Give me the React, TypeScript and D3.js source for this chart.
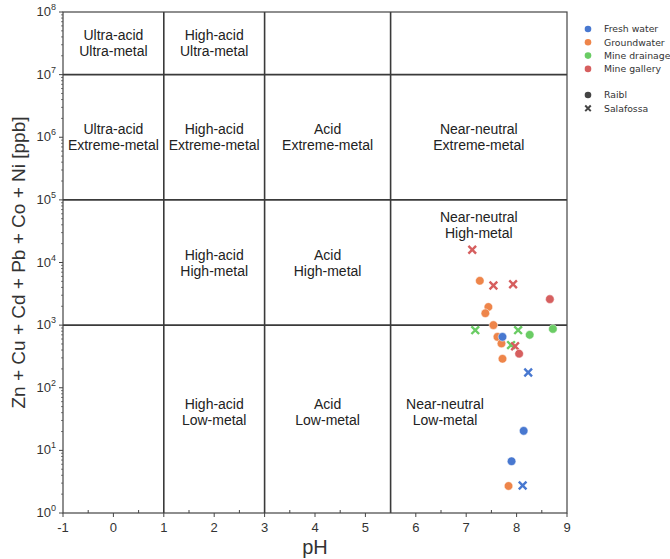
import React, { useEffect, useRef } from 'react';
import * as d3 from 'd3';

// samples: [pH, Zn+Cu+Cd+Pb+Co+Ni in ppb, site]
type Sample = [number, number, string];

const groundwater: Sample[] = [
  [7.27, 5100, 'Raibl'],
  [7.44, 1950, 'Raibl'],
  [7.38, 1550, 'Raibl'],
  [7.54, 1000, 'Raibl'],
  [7.62, 650, 'Raibl'],
  [7.70, 510, 'Raibl'],
  [7.72, 290, 'Raibl'],
  [7.84, 2.7, 'Raibl'],
];

const mineDrainage: Sample[] = [
  [7.18, 830, 'Salafossa'],
  [8.03, 830, 'Salafossa'],
  [8.26, 700, 'Raibl'],
  [8.72, 870, 'Raibl'],
  [7.89, 480, 'Salafossa'],
];

const mineGallery: Sample[] = [
  [7.12, 16000, 'Salafossa'],
  [7.54, 4300, 'Salafossa'],
  [7.93, 4500, 'Salafossa'],
  [8.66, 2600, 'Raibl'],
  [7.97, 460, 'Salafossa'],
  [8.05, 350, 'Raibl'],
];

const freshWater: Sample[] = [
  [7.72, 650, 'Raibl'],
  [8.23, 175, 'Salafossa'],
  [8.14, 20.5, 'Raibl'],
  [7.90, 6.7, 'Raibl'],
  [8.12, 2.75, 'Salafossa'],
];

const waterTypes = ['Fresh water', 'Groundwater', 'Mine drainage', 'Mine gallery'];
const typeColors = ['#4878d0', '#ee854a', '#6acc64', '#d65f5f'];
const sites = ['Raibl', 'Salafossa'];

// class boundaries
const pHBounds = [1, 3, 5.5];
const metalBounds = [1e3, 1e5, 1e7];

// region labels: [pH, log10 metal, line1, line2]
const regionLabels: [number, number, string, string][] = [
  [0, 7.5, 'Ultra-acid', 'Ultra-metal'],
  [2, 7.5, 'High-acid', 'Ultra-metal'],
  [0, 6, 'Ultra-acid', 'Extreme-metal'],
  [2, 6, 'High-acid', 'Extreme-metal'],
  [4.25, 6, 'Acid', 'Extreme-metal'],
  [7.25, 6, 'Near-neutral', 'Extreme-metal'],
  [2, 4, 'High-acid', 'High-metal'],
  [4.25, 4, 'Acid', 'High-metal'],
  [7.25, 4.6, 'Near-neutral', 'High-metal'],
  [2, 1.62, 'High-acid', 'Low-metal'],
  [4.25, 1.62, 'Acid', 'Low-metal'],
  [6.58, 1.62, 'Near-neutral', 'Low-metal'],
];

const xTicks = [-1, 0, 1, 2, 3, 4, 5, 6, 7, 8, 9];
const yExponents = [0, 1, 2, 3, 4, 5, 6, 7, 8];

const W = 670;
const H = 559;
const margin = { left: 63, right: 103, top: 12, bottom: 46 };

export default function App() {
  const ref = useRef<SVGSVGElement>(null);

  useEffect(() => {
    if (!ref.current) return;
    const svg = d3.select(ref.current);
    svg.selectAll('*').remove();

    const x = d3.scaleLinear().domain([-1, 9]).range([margin.left, W - margin.right]);
    const y = d3.scaleLog().domain([1, 1e8]).range([H - margin.bottom, margin.top]);
    const font = 'Liberation Sans, Arial, sans-serif';
    const [x0, x1] = x.range();
    const [y0, y1] = y.range();

    // grid of class boundaries
    const grid = svg.append('g').attr('stroke', '#3a3a3a').attr('stroke-width', 1.6);
    pHBounds.forEach(p => {
      grid.append('line').attr('x1', x(p)).attr('x2', x(p)).attr('y1', y0).attr('y2', y1);
    });
    metalBounds.forEach(m => {
      grid.append('line').attr('x1', x0).attr('x2', x1).attr('y1', y(m)).attr('y2', y(m));
    });

    // frame
    svg.append('rect')
      .attr('x', x0).attr('y', y1)
      .attr('width', x1 - x0).attr('height', y0 - y1)
      .attr('fill', 'none').attr('stroke', '#444').attr('stroke-width', 1.2);

    // region labels
    const lab = svg.append('g')
      .attr('font-family', font).attr('font-size', 14).attr('fill', '#222')
      .attr('text-anchor', 'middle');
    regionLabels.forEach(([p, lm, a, b]) => {
      const cy = y(Math.pow(10, lm));
      lab.append('text').attr('x', x(p)).attr('y', cy - 3).text(a);
      lab.append('text').attr('x', x(p)).attr('y', cy + 13).text(b);
    });

    // x ticks
    const ax = svg.append('g').attr('stroke', '#444').attr('stroke-width', 1);
    xTicks.forEach(t => {
      ax.append('line').attr('x1', x(t)).attr('x2', x(t)).attr('y1', y0).attr('y2', y0 + 4);
      if (t < 9) {
        const m = t + 0.5;
        ax.append('line').attr('x1', x(m)).attr('x2', x(m)).attr('y1', y0).attr('y2', y0 - 3);
      }
    });
    svg.append('g')
      .attr('font-family', font).attr('font-size', 13).attr('fill', '#333')
      .attr('text-anchor', 'middle')
      .selectAll('text').data(xTicks).join('text')
      .attr('x', d => x(d)).attr('y', y0 + 19)
      .text(d => String(d));

    // y ticks (log)
    yExponents.forEach(e => {
      const v = Math.pow(10, e);
      ax.append('line').attr('x1', x0 - 4).attr('x2', x0).attr('y1', y(v)).attr('y2', y(v));
      if (e < 8) {
        for (let k = 2; k <= 9; k++) {
          const mv = k * v;
          ax.append('line').attr('x1', x0 - 2).attr('x2', x0).attr('y1', y(mv)).attr('y2', y(mv))
            .attr('stroke-width', 0.7);
        }
      }
      const t = svg.append('text')
        .attr('font-family', font).attr('fill', '#333')
        .attr('text-anchor', 'end')
        .attr('x', x0 - 7).attr('y', y(v) + 4);
      t.append('tspan').attr('font-size', 13).text('10');
      t.append('tspan').attr('font-size', 9).attr('dy', -6).text(String(e));
    });

    // axis titles
    svg.append('text')
      .attr('font-family', font).attr('font-size', 20).attr('fill', '#333')
      .attr('text-anchor', 'middle')
      .attr('x', (x0 + x1) / 2).attr('y', 554)
      .text('pH');
    svg.append('text')
      .attr('font-family', font).attr('font-size', 19).attr('fill', '#333')
      .attr('text-anchor', 'middle')
      .attr('transform', `translate(25,${(y0 + y1) / 2}) rotate(-90)`)
      .text('Zn + Cu + Cd + Pb + Co + Ni [ppb]');

    // points
    const crossPath = d3.symbol(d3.symbolX, 40)();
    const groups: [Sample[], string][] = [
      [groundwater, typeColors[1]],
      [mineDrainage, typeColors[2]],
      [mineGallery, typeColors[3]],
      [freshWater, typeColors[0]],
    ];
    const pts = svg.append('g');
    groups.forEach(([rows, c]) => {
      rows.forEach(([p, m, site]) => {
        if (site === 'Raibl') {
          pts.append('circle')
            .attr('cx', x(p)).attr('cy', y(m)).attr('r', 4.3)
            .attr('fill', c).attr('stroke', '#fff').attr('stroke-width', 0.5);
        } else {
          pts.append('path')
            .attr('d', crossPath)
            .attr('transform', `translate(${x(p)},${y(m)})`)
            .attr('fill', 'none').attr('stroke', c).attr('stroke-width', 2.4);
        }
      });
    });

    // legend
    const lg = svg.append('g')
      .attr('font-family', 'DejaVu Sans, sans-serif').attr('font-size', 9.3).attr('fill', '#333');
    waterTypes.forEach((name, i) => {
      const ly = 29 + i * 13.3;
      lg.append('circle').attr('cx', 588).attr('cy', ly).attr('r', 3.3).attr('fill', typeColors[i]);
      lg.append('text').attr('x', 604).attr('y', ly + 3.3).text(name);
    });
    sites.forEach((name, i) => {
      const ly = 95 + i * 13.3;
      if (i === 0) {
        lg.append('circle').attr('cx', 588).attr('cy', ly).attr('r', 3.3).attr('fill', '#444');
      } else {
        lg.append('path').attr('d', d3.symbol(d3.symbolX, 22)())
          .attr('transform', `translate(588,${ly})`)
          .attr('fill', 'none').attr('stroke', '#444').attr('stroke-width', 2);
      }
      lg.append('text').attr('x', 604).attr('y', ly + 3.3).text(name);
    });
  }, []);

  return (
    <svg
      ref={ref}
      width={W}
      height={H}
      style={{ position: 'absolute', left: 0, top: 0, background: '#fff' }}
    />
  );
}
